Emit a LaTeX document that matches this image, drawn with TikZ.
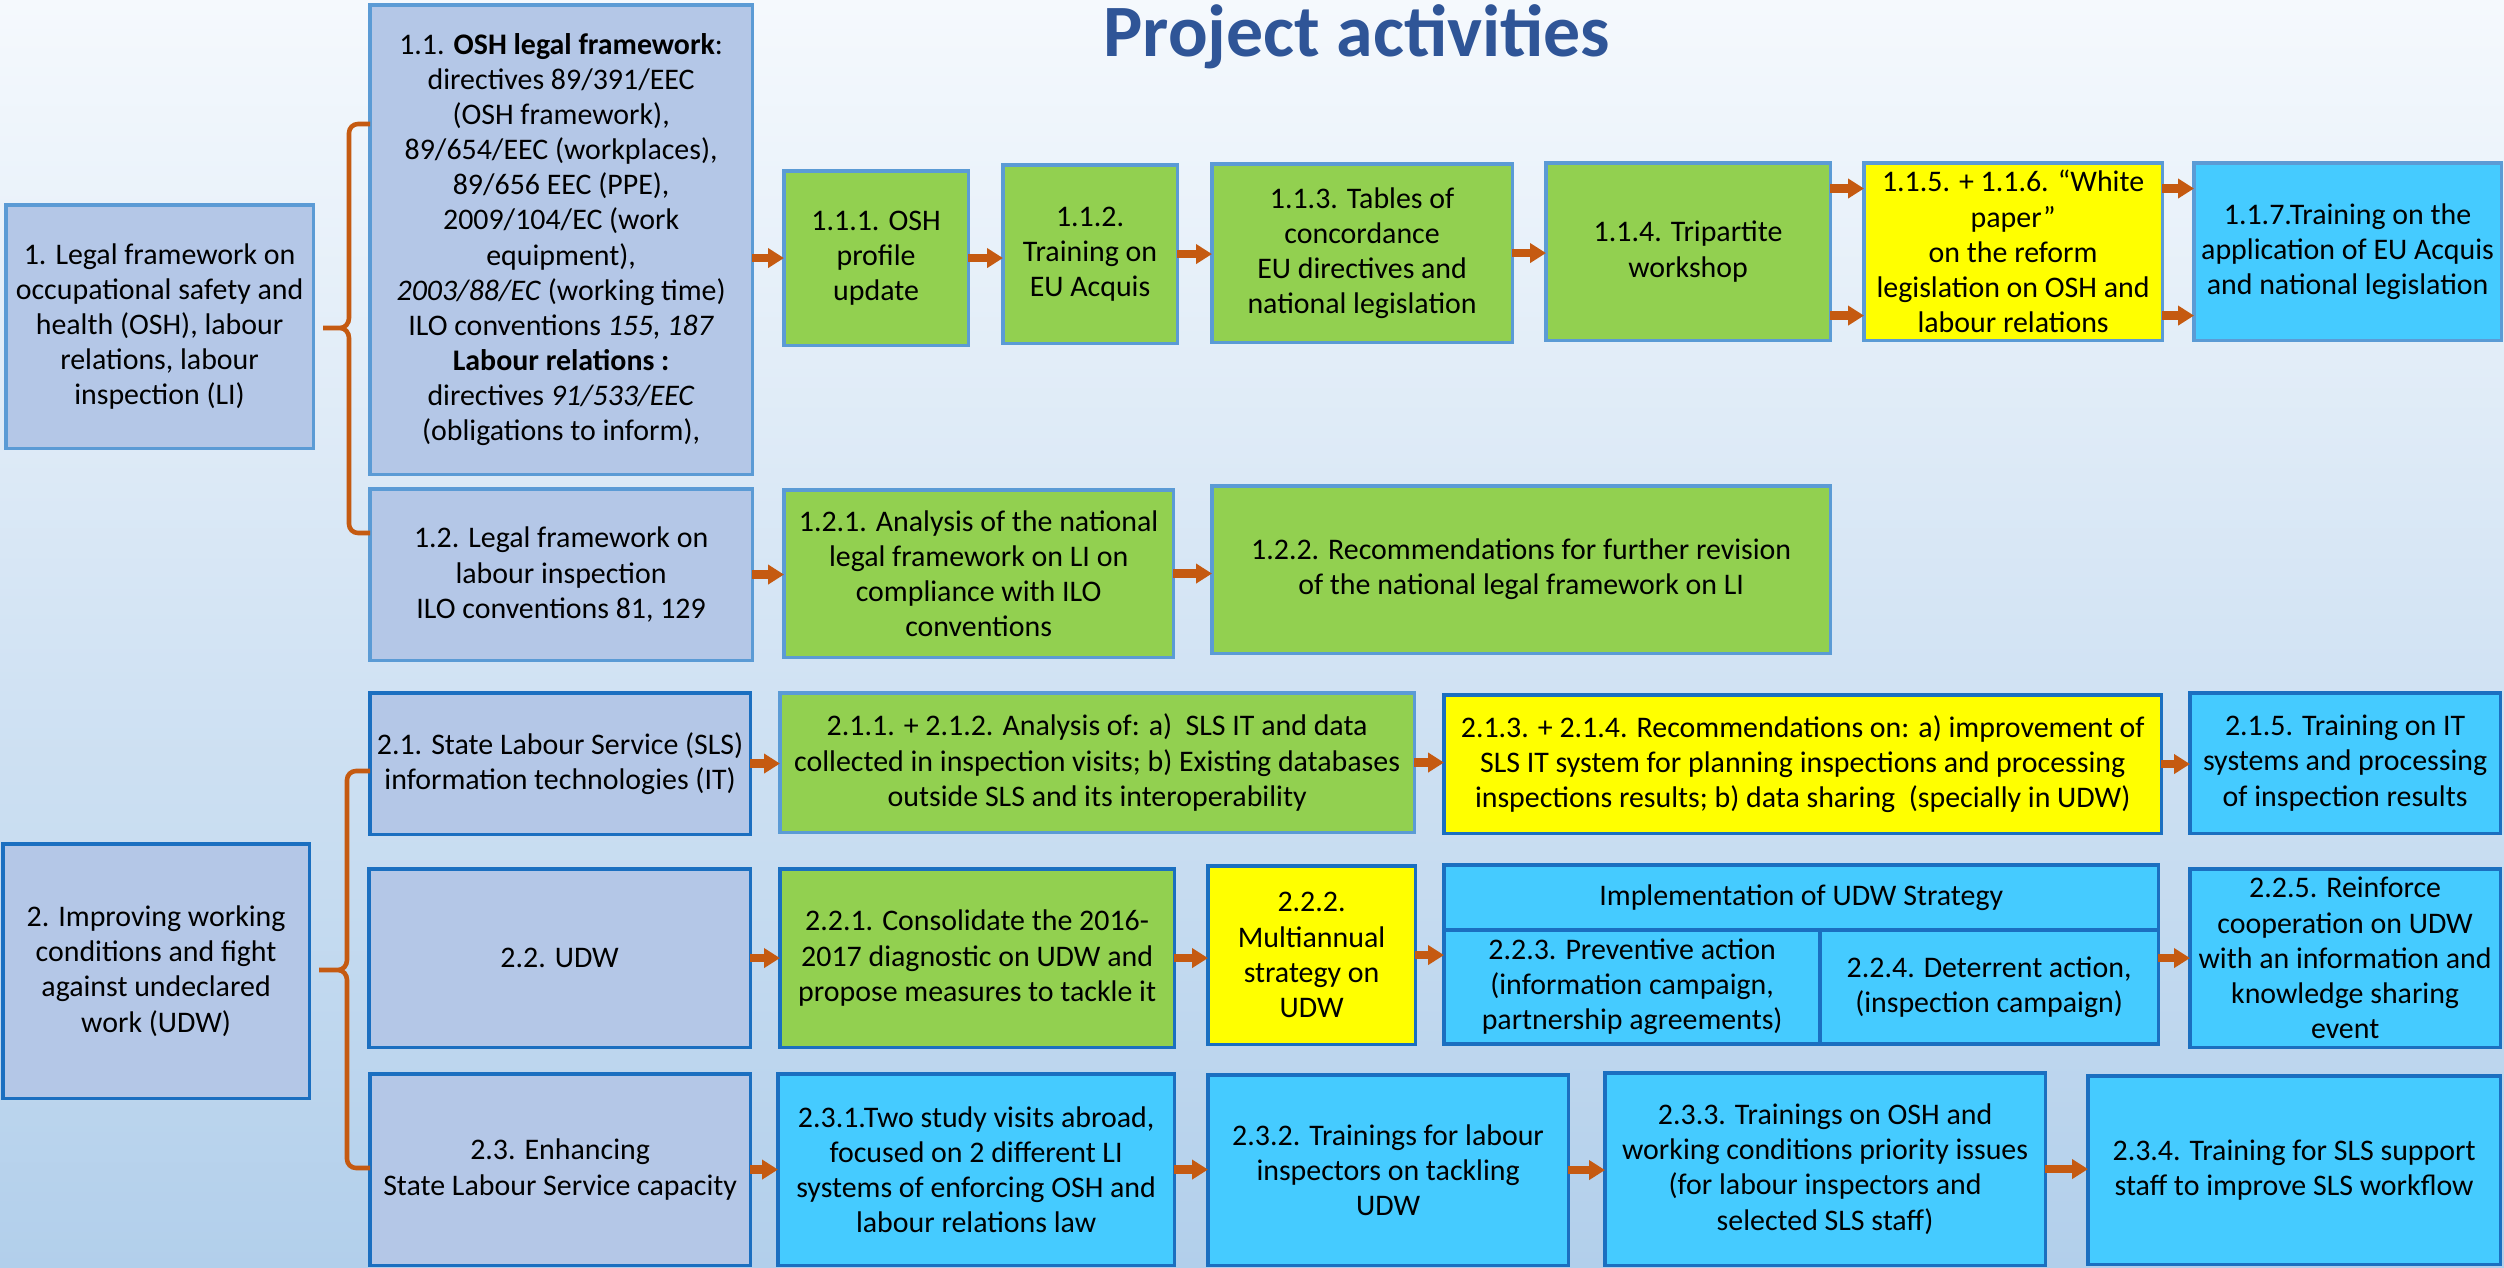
\documentclass[tikz,border=0pt]{standalone}
\usepackage{fontspec}
\setmainfont{Carlito}
\usepackage{tikz}
\usetikzlibrary{arrows.meta}
\usetikzlibrary{positioning}
\usetikzlibrary{calc}

\definecolor{lavender}{HTML}{B4C7E7}
\definecolor{leaf}{HTML}{92D050}
\definecolor{sky}{HTML}{45CBFF}
\definecolor{lemon}{HTML}{FFFF00}
\definecolor{rim}{HTML}{5B9BD5}
\definecolor{darkrim}{HTML}{1B6FC0}
\definecolor{rust}{HTML}{C55A11}
\definecolor{titleblue}{HTML}{2F5597}
\definecolor{bgtop}{HTML}{F5F9FD}
\definecolor{bgmid}{HTML}{D2E3F3}
\definecolor{bgbot}{HTML}{B2CFEB}

\begin{document}
\begin{tikzpicture}[x = 0.01cm, y = -0.01cm, box/.style = {draw = rim, line width = 0.9pt, anchor = north west, align = center, inner sep = 1pt, outer sep = 0pt, font = \fontsize{8.5}{10}\selectfont}, lowbox/.style = {box, draw = darkrim}, lav/.style = {fill = lavender}, grn/.style = {fill = leaf}, ylw/.style = {fill = lemon}, cyn/.style = {fill = sky}, flow/.style = {draw = rust, line width = 2.4pt, -{Triangle[length = 0.16cm, width = 0.19cm]}}, brace/.style = {draw = rust, line width = 1.3pt}]
	\shade[top color = bgtop, middle color = bgmid, bottom color = bgbot] (0,0) rectangle (2504,1267);
	\useasboundingbox (0,0) rectangle (2504,1267);
	\node[anchor = base, text = titleblue, font = \fontsize{21}{25}\selectfont\bfseries] (title) at (1357,57) {Project activities};
	\node[box, lav, minimum width = 3.07cm, minimum height = 2.43cm] (B1) at (6,205) {1. Legal framework on\\occupational safety and\\health (OSH), labour\\relations, labour\\inspection (LI)};
	\node[box, lav, minimum width = 3.82cm, minimum height = 4.69cm] (B11) at (370,5) {1.1. \textbf{OSH legal framework}:\\directives 89/391/EEC\\(OSH framework),\\89/654/EEC (workplaces),\\89/656 EEC (PPE),\\2009/104/EC (work\\equipment),\\\textit{2003/88/EC} (working time)\\ILO conventions \textit{155, 187}\\\textbf{Labour relations :}\\directives \textit{91/533/EEC}\\(obligations to inform),};
	\node[box, grn, minimum width = 1.84cm, minimum height = 1.74cm] (A111) at (784,171) {1.1.1. OSH\\profile\\update};
	\node[box, grn, minimum width = 1.74cm, minimum height = 1.78cm] (A112) at (1003,165) {1.1.2.\\Training on\\EU Acquis};
	\node[box, grn, minimum width = 3.00cm, minimum height = 1.78cm] (A113) at (1212,164) {1.1.3. Tables of\\concordance\\EU directives and\\national legislation};
	\node[box, grn, minimum width = 2.84cm, minimum height = 1.77cm] (A114) at (1546,163) {1.1.4. Tripartite\\workshop};
	\node[box, ylw, minimum width = 2.98cm, minimum height = 1.77cm] (A115) at (1864,163) {1.1.5. + 1.1.6. “White\\paper”\\on the reform\\legislation on OSH and\\labour relations};
	\node[box, cyn, minimum width = 3.07cm, minimum height = 1.77cm] (A117) at (2194,163) {1.1.7.Training on the\\application of EU Acquis\\and national legislation};
	\node[box, lav, minimum width = 3.82cm, minimum height = 1.71cm] (B12) at (370,489) {1.2. Legal framework on\\labour inspection\\ILO conventions 81, 129};
	\node[box, grn, minimum width = 3.89cm, minimum height = 1.67cm] (A121) at (784,490) {1.2.1. Analysis of the national\\legal framework on LI on\\compliance with ILO\\conventions};
	\node[box, grn, minimum width = 6.18cm, minimum height = 1.67cm] (A122) at (1212,486) {1.2.2. Recommendations for further revision\\of the national legal framework on LI};
	\node[lowbox, lav, minimum width = 3.06cm, minimum height = 2.54cm] (B2) at (3,844) {2. Improving working\\conditions and fight\\against undeclared\\work (UDW)};
	\node[lowbox, lav, minimum width = 3.80cm, minimum height = 1.41cm] (B21) at (370,693) {2.1. State Labour Service (SLS)\\information technologies (IT)};
	\node[box, grn, minimum width = 6.34cm, minimum height = 1.39cm] (A211) at (780,693) {2.1.1. + 2.1.2. Analysis of: a)\ \ SLS IT and data\\collected in inspection visits; b) Existing databases\\outside SLS and its interoperability};
	\node[lowbox, ylw, minimum width = 7.17cm, minimum height = 1.38cm] (A213) at (1444,695) {2.1.3. + 2.1.4. Recommendations on: a) improvement of\\SLS IT system for planning inspections and processing\\inspections results; b) data sharing\ \ (specially in UDW)};
	\node[lowbox, cyn, minimum width = 3.10cm, minimum height = 1.40cm] (A215) at (2190,693) {2.1.5. Training on IT\\systems and processing\\of inspection results};
	\node[lowbox, lav, minimum width = 3.81cm, minimum height = 1.78cm] (B22) at (369,869) {2.2. UDW};
	\node[lowbox, grn, minimum width = 3.94cm, minimum height = 1.78cm] (A221) at (780,869) {2.2.1. Consolidate the 2016-\\2017 diagnostic on UDW and\\propose measures to tackle it};
	\node[lowbox, ylw, minimum width = 2.07cm, minimum height = 1.78cm] (A222) at (1208,866) {2.2.2.\\Multiannual\\strategy on\\UDW};
	\node[lowbox, cyn, minimum width = 7.14cm, minimum height = 0.65cm] (UDWS) at (1444,865) {Implementation of UDW Strategy};
	\node[lowbox, cyn, minimum width = 3.76cm, minimum height = 1.14cm] (A223) at (1444,930) {2.2.3. Preventive action\\(information campaign,\\partnership agreements)};
	\node[lowbox, cyn, minimum width = 3.38cm, minimum height = 1.14cm] (A224) at (1820,930) {2.2.4. Deterrent action,\\(inspection campaign)};
	\node[lowbox, cyn, minimum width = 3.10cm, minimum height = 1.78cm] (A225) at (2190,869) {2.2.5. Reinforce\\cooperation on UDW\\with an information and\\knowledge sharing\\event};
	\node[lowbox, lav, minimum width = 3.80cm, minimum height = 1.91cm] (B23) at (370,1074) {2.3. Enhancing\\State Labour Service capacity};
	\node[lowbox, cyn, minimum width = 3.96cm, minimum height = 1.91cm] (A231) at (778,1074) {2.3.1.Two study visits abroad,\\focused on 2 different LI\\systems of enforcing OSH and\\labour relations law};
	\node[lowbox, cyn, minimum width = 3.60cm, minimum height = 1.90cm] (A232) at (1208,1075) {2.3.2. Trainings for labour\\inspectors on tackling\\UDW};
	\node[lowbox, cyn, minimum width = 4.40cm, minimum height = 1.92cm] (A233) at (1605,1073) {2.3.3. Trainings on OSH and\\working conditions priority issues\\(for labour inspectors and\\selected SLS staff)};
	\node[lowbox, cyn, minimum width = 4.12cm, minimum height = 1.88cm] (A234) at (2088,1076) {2.3.4. Training for SLS support\\staff to improve SLS workflow};
	\coordinate (tip1) at (323,328);
	\coordinate (tip2) at (319,970);
	\draw[brace] (B11.west |- 0,124) -- (358,124) to[out = 180, in = 90] (349,133) -- (349,318) to[out = -90, in = 0] (340,328) -- (tip1) -- (340,328) to[out = 0, in = 90] (349,338) -- (349,524) to[out = -90, in = 180] (358,533) -- (B12.west |- 0,533);
	\draw[brace] (B21.west |- 0,771) -- (356,771) to[out = 180, in = 90] (347,780) -- (347,960) to[out = -90, in = 0] (338,970) -- (tip2) -- (338,970) to[out = 0, in = 90] (347,980) -- (347,1159) to[out = -90, in = 180] (356,1168) -- (B23.west |- 0,1168);
	\draw[flow] (A111.west -| B11.east) -- (A111.west);
	\draw[flow] (A111.east) -- (A111.east -| A112.west);
	\draw[flow] (A112.east) -- (A112.east -| A113.west);
	\draw[flow] (A113.east) -- (A113.east -| A114.west);
	\draw[flow] ([yshift = 0.63cm]A114.east) -- ([yshift = 0.63cm]A115.west);
	\draw[flow] ([yshift = -0.64cm]A114.east) -- ([yshift = -0.64cm]A115.west);
	\draw[flow] ([yshift = 0.63cm]A115.east) -- ([yshift = 0.63cm]A117.west);
	\draw[flow] ([yshift = -0.64cm]A115.east) -- ([yshift = -0.64cm]A117.west);
	\draw[flow] (B12.east) -- (B12.east -| A121.west);
	\draw[flow] (A121.east) -- (A121.east -| A122.west);
	\draw[flow] (B21.east) -- (B21.east -| A211.west);
	\draw[flow] (A211.east) -- (A211.east -| A213.west);
	\draw[flow] (A213.east) -- (A213.east -| A215.west);
	\draw[flow] (B22.east) -- (B22.east -| A221.west);
	\draw[flow] (A221.east) -- (A221.east -| A222.west);
	\draw[flow] (A222.east) -- (A222.east -| A223.west);
	\draw[flow] (A225.west -| A224.east) -- (A225.west);
	\draw[flow] (B23.east) -- (B23.east -| A231.west);
	\draw[flow] (A231.east) -- (A231.east -| A232.west);
	\draw[flow] (A232.east) -- (A232.east -| A233.west);
	\draw[flow] (A233.east) -- (A233.east -| A234.west);
\end{tikzpicture}
\end{document}
